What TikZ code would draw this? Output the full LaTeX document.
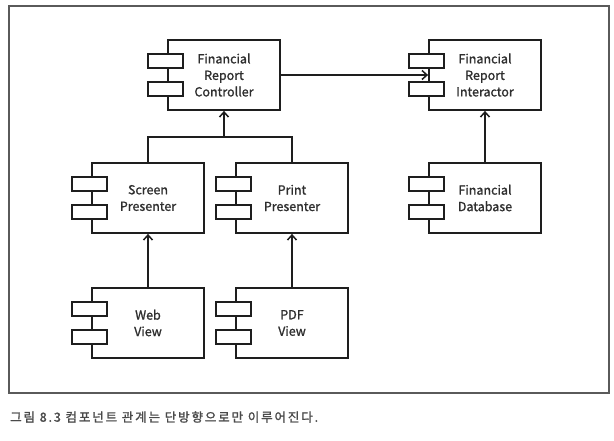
\documentclass[tikz,border=0pt]{standalone}
\usepackage{fontspec}
\setmainfont{Noto Sans CJK KR}
\newfontfamily\lblfont{Noto Sans CJK KR}[FakeBold=1.2]
\newfontfamily\capfont{Noto Sans CJK KR}[FakeBold=1.6,LetterSpace=15]
\usetikzlibrary{arrows.meta}
\definecolor{txt}{HTML}{2E2E2E}
\definecolor{frm}{HTML}{5A5A5A}
\definecolor{capc}{HTML}{4A4A4A}
\definecolor{ln}{HTML}{1E1E1E}
\tikzset{
  comp/.style={draw=ln, line width=1.8pt, minimum width=112pt, minimum height=70pt,
    inner sep=0pt, align=center, text=txt, font=\lblfont\fontsize{12.5}{16.5}\selectfont},
  port/.style={draw=ln, line width=1.8pt, fill=white},
  dep/.style={draw=ln, line width=1.8pt, -{Straight Barb[length=5pt,width=9pt,line width=1.5pt]}},
}
\newcommand{\ports}[1]{%
  \draw[port] ([xshift=-19pt,yshift=7pt]#1.west) rectangle ([xshift=16pt,yshift=21pt]#1.west);
  \draw[port] ([xshift=-19pt,yshift=-7pt]#1.west) rectangle ([xshift=16pt,yshift=-21pt]#1.west);
}
\begin{document}
\begin{tikzpicture}[x=1pt,y=-1pt]
\useasboundingbox (0,0) rectangle (614,441);
\draw[frm, line width=1.8pt] (9,6) rectangle (609,393);
\node[comp] (frc) at (224,75) {Financial\\Report\\Controller};
\node[comp] (fri) at (485,75) {Financial\\Report\\Interactor};
\node[comp] (sp) at (148,198) {Screen\\Presenter};
\node[comp] (pp) at (292,198) {Print\\Presenter};
\node[comp] (fd) at (485,198) {Financial\\Database};
\node[comp] (wv) at (148,323) {Web\\View};
\node[comp] (pv) at (292,323) {PDF\\View};
\foreach \n in {frc,fri,sp,pp,fd,wv,pv} {\ports{\n}}
\coordinate (j) at (224,137);
\draw[draw=ln, line width=1.8pt] (sp.north) |- (j) -| (pp.north);
\draw[dep] (j) -- (frc.south);
\draw[dep] (frc.east) -- (fri.west);
\draw[dep] (fd.north) -- (fri.south);
\draw[dep] (wv.north) -- (sp.south);
\draw[dep] (pv.north) -- (pp.south);
\node[anchor=west, inner sep=0pt, text=capc, font=\capfont\fontsize{12.5}{14}\selectfont] (cap) at (10,417) {그림 8.3 컴포넌트 관계는 단방향으로만 이루어진다.};
\end{tikzpicture}
\end{document}
